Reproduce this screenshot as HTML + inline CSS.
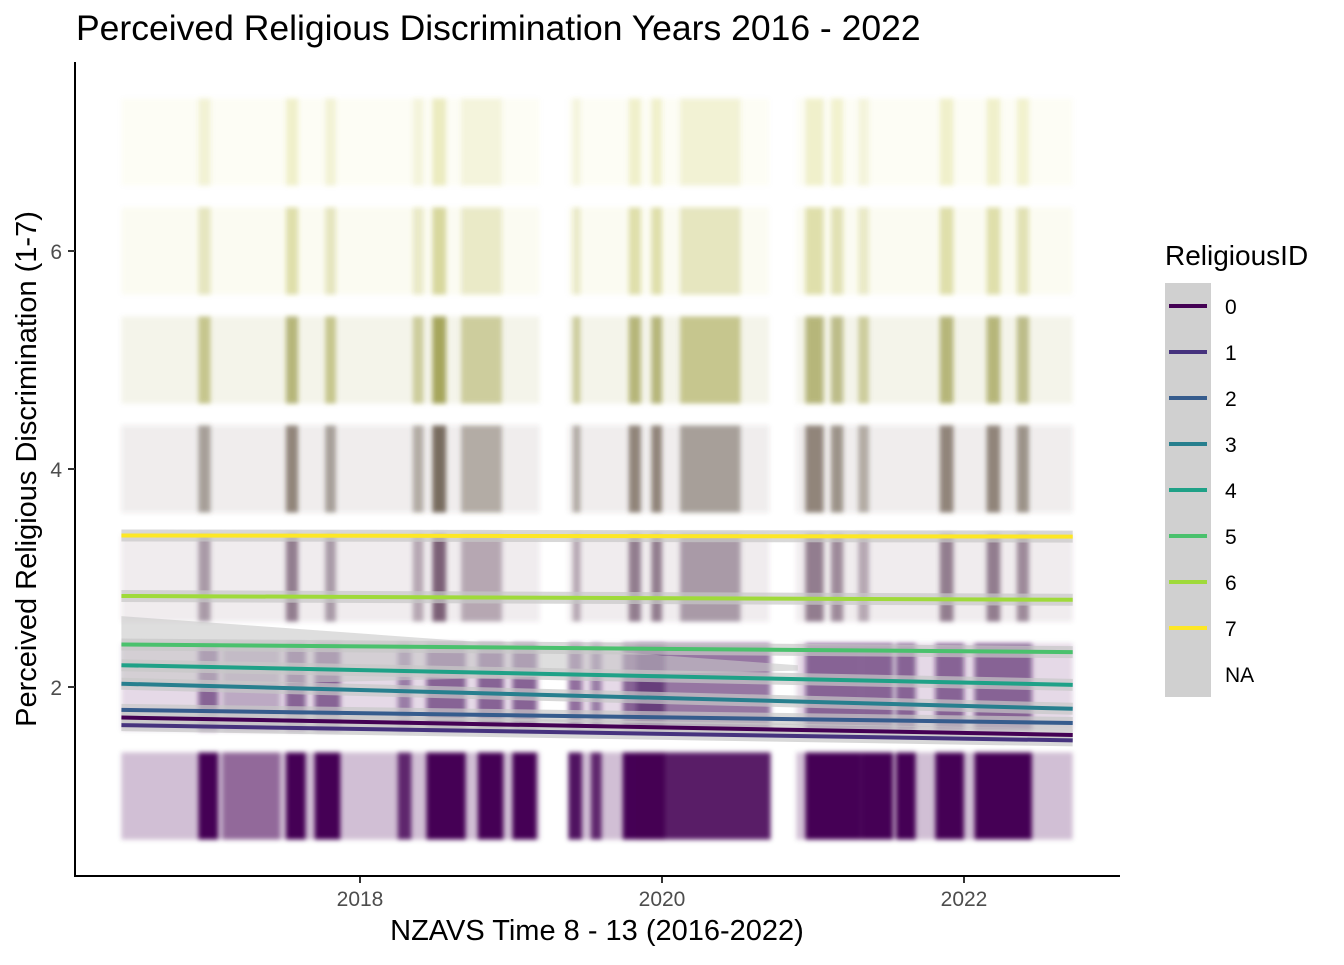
<!DOCTYPE html>
<html><head><meta charset="utf-8"><style>
body{margin:0;background:#fff;font-family:"Liberation Sans",Arial,sans-serif}
svg text{font-family:"Liberation Sans",Arial,sans-serif}
</style></head><body>
<svg id="chart" width="1344" height="960">
<defs><filter id="blur"><feGaussianBlur stdDeviation="2.5"/></filter></defs>
<text x="76" y="40" font-size="35.5" fill="#000">Perceived Religious Discrimination Years 2016 - 2022</text>
<g id="points" filter="url(#blur)"></g>
<g id="ribbons"></g>
<g id="lines"></g>
<line x1="75" y1="62" x2="75" y2="877" stroke="#000" stroke-width="2"/>
<line x1="74" y1="876" x2="1120" y2="876" stroke="#000" stroke-width="2"/>
<g id="xticks"></g>
<g id="yticks"></g>
<text x="597" y="940" font-size="29" text-anchor="middle">NZAVS Time 8 - 13 (2016-2022)</text>
<text transform="translate(36,469) rotate(-90)" font-size="29" text-anchor="middle">Perceived Religious Discrimination (1-7)</text>
<text x="1165" y="265" font-size="28">ReligiousID</text>
<rect x="1165" y="283" width="46" height="414" fill="#d0d0d0"/>
<g id="legend"></g>
</svg>
<script>
const groups=['0','1','2','3','4','5','6','7'];
const startVals=[1.72,1.65,1.79,2.03,2.20,2.39,2.835,3.39];
const endVals=[1.56,1.51,1.67,1.80,2.02,2.32,2.80,3.38];
const colors=['#440154','#46337E','#365C8D','#277F8E','#1FA187','#4AC16D','#9FDA3A','#FDE725'];
const xTicks=[2018,2020,2022];
const yTicks=[2,4,6];
const bandLevels=[1,2,3,4,5,6,7];
const bandColors=['#440154','#4a1560','#5a3a55','#4b3a2a','#7e7e10','#a8a820','#c4c43a'];
const bandMax=[1,0.8,0.65,0.6,0.55,0.35,0.25];
const colStart=[2016.42,2019.38,2020.89,2016.93,2017.51,2017.77,2018.35,2018.48,2018.67,2019.41,2019.78,2019.93,2020.12,2020.95,2021.12,2021.30,2021.84,2022.15,2022.35];
const colEnd=[2019.19,2020.71,2022.72,2017.01,2017.59,2017.84,2018.42,2018.57,2018.94,2019.46,2019.86,2020.00,2020.52,2021.07,2021.20,2021.37,2021.93,2022.24,2022.43];
const colIntensity=[0.15,0.15,0.15,0.6,0.8,0.6,0.5,1.0,0.5,0.5,0.8,0.8,0.6,0.8,0.7,0.5,0.8,0.8,0.7];
const lowStart=[2016.93,2017.09,2017.51,2017.70,2018.25,2018.44,2018.78,2019.01,2019.38,2019.53,2019.74,2019.83,2020.95,2021.32,2021.55,2021.81,2022.07];
const lowEnd=[2017.06,2017.47,2017.64,2017.87,2018.34,2018.70,2018.95,2019.17,2019.47,2019.60,2020.02,2020.72,2021.32,2021.53,2021.68,2022.00,2022.45];
const lowIntensity=[1,0.45,1,1,0.8,1,1,1,0.9,0.8,1,0.85,1,1,1,1,1];
const X=v=>360+(v-2018)*151;
const Y=v=>687-(v-2)*109;
const NS='http://www.w3.org/2000/svg';
function mk(t,a,p){const e=document.createElementNS(NS,t);for(const k in a)e.setAttribute(k,a[k]);p.appendChild(e);return e;}
const pts=document.getElementById('points');
bandLevels.forEach((b,bi)=>{
  if(b<=2){
    const bgI=b===1?0.25:0.15;
    [0,1,2].forEach(ci=>{
      const r=mk('rect',{x:X(colStart[ci]),y:Y(b+0.4),width:X(colEnd[ci])-X(colStart[ci]),height:Y(b-0.4)-Y(b+0.4),fill:bandColors[bi],opacity:bgI},pts);
      
      
    });
    lowStart.forEach((s,ci)=>{
      const r=mk('rect',{x:X(s),y:Y(b+0.4),width:X(lowEnd[ci])-X(s),height:Y(b-0.4)-Y(b+0.4),fill:bandColors[bi],opacity:lowIntensity[ci]*(b===1?1:0.6)},pts);
      
      
    });
    return;
  }
  colStart.forEach((s,ci)=>{
  const r=mk('rect',{x:X(s),y:Y(b+0.4),width:X(colEnd[ci])-X(s),height:Y(b-0.4)-Y(b+0.4),fill:bandColors[bi],opacity:Math.min(1,colIntensity[ci]*bandMax[bi]*(ci<3?1:1.2))},pts);
  
  
});});
const x0=2016.42,x1=2022.72;
const rib=document.getElementById('ribbons');
const tri=mk('polygon',{points:`${X(x0)},${Y(2.65)} ${X(2020.9)},${Y(2.2)} ${X(2020.9)},${Y(2.15)} ${X(x0)},${Y(2.0)}`,fill:'#c8c8c8',opacity:0.6},rib);


const ln=document.getElementById('lines');
groups.forEach((g,i)=>{
  const w=mk('line',{x1:X(x0),y1:Y(startVals[i]),x2:X(x1),y2:Y(endVals[i]),stroke:'#c8c8c8','stroke-width':12,opacity:0.7},ln);
  
  
});
groups.forEach((g,i)=>{
  const l=mk('line',{x1:X(x0),y1:Y(startVals[i]),x2:X(x1),y2:Y(endVals[i]),stroke:colors[i],'stroke-width':4},ln);
  
  
});
const xt=document.getElementById('xticks');
xTicks.forEach(t=>{
  const l=mk('line',{x1:X(t),y1:877,x2:X(t),y2:883,stroke:'#333','stroke-width':2},xt);
  
  
  const tx=mk('text',{x:X(t),y:906,'font-size':21,fill:'#4d4d4d','text-anchor':'middle'},xt);tx.textContent=t;
  
  
});
const yt=document.getElementById('yticks');
yTicks.forEach(t=>{
  const l=mk('line',{x1:68,y1:Y(t),x2:75,y2:Y(t),stroke:'#333','stroke-width':2},yt);
  
  
  const tx=mk('text',{x:62,y:Y(t)+8,'font-size':21,fill:'#4d4d4d','text-anchor':'end'},yt);tx.textContent=t;
  
  
});
const lg=document.getElementById('legend');
groups.concat(['NA']).forEach((g,i)=>{
  const y=306+i*46;
  if(i<8){const l=mk('line',{x1:1169,y1:y,x2:1207,y2:y,stroke:colors[i],'stroke-width':4},lg);
    
    }
  const tx=mk('text',{x:1225,y:y+8,'font-size':21},lg);tx.textContent=g;
  
  
});
</script>
</body></html>
